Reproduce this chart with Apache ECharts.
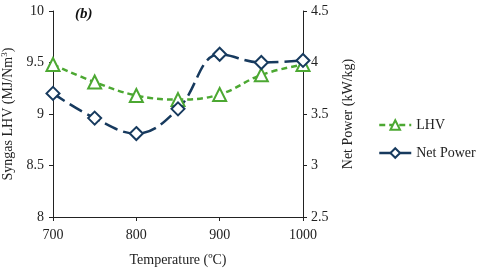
<!DOCTYPE html>
<html><head><meta charset="utf-8">
<script src="https://cdn.jsdelivr.net/npm/echarts@6/dist/echarts.min.js"></script>
<style>html,body{margin:0;padding:0;background:#fff}#c{width:480px;height:268px}</style>
</head><body><div id="c"></div>
<script>
var temps = ['700','750','800','850','900','950','1000'];
var tempValues = [700,750,800,850,900,950,1000];
var lhv = [9.48, 9.31, 9.18, 9.14, 9.19, 9.38, 9.48];
var netPower = [3.70, 3.46, 3.31, 3.55, 4.08, 4.00, 4.02];
var leftTicks = [8, 8.5, 9, 9.5, 10];
var rightTicks = [2.5, 3, 3.5, 4, 4.5];
var xTicks = [700, 800, 900, 1000];

var green = '#4ca832', navy = '#173a5e';
var font = 'Liberation Serif';
var chart = echarts.init(document.getElementById('c'));
function pairs(vals){ return tempValues.map(function(t,i){return [t, vals[i]];}); }
chart.setOption({
  animation: false,
  textStyle: {fontFamily: font, color: '#222'},
  grid: {left: 53, right: 177, top: 11, bottom: 51, containLabel: false, outerBoundsMode: 'none'},
  title: {text: '(b)', left: 70, top: 2, textStyle: {fontFamily: font, fontSize: 15, fontWeight: 'bold', fontStyle: 'italic', color: '#111'}},
  legend: {
    orient: 'vertical', left: 378, top: 118, padding: 0, itemWidth: 32, itemHeight: 12, itemGap: 14,
    textStyle: {fontFamily: font, fontSize: 14, color: '#222'},
    data: [
      {name: 'LHV', lineStyle: {type: [6, 4], width: 2.5, color: green}},
      {name: 'Net Power', lineStyle: {type: [14, 6], width: 2.5, color: navy}}
    ]
  },
  xAxis: {
    type: 'value', min: 700, max: 1000, interval: 100,
    name: 'Temperature (ºC)', nameLocation: 'middle', nameGap: 36,
    nameTextStyle: {fontFamily: font, fontSize: 14, color: '#222'},
    axisLine: {lineStyle: {color: '#222', width: 1}},
    axisTick: {show: true, length: 4, lineStyle: {color: '#222'}},
    axisLabel: {fontFamily: font, fontSize: 14, color: '#222', margin: 11,
      formatter: function(v){ return xTicks.indexOf(v) >= 0 ? String(v) : ''; }},
    splitLine: {show: false}
  },
  yAxis: [{
    type: 'value', min: 8, max: 10, interval: 0.5, position: 'left',
    name: '{n|Syngas LHV (MJ/Nm}{s|3}{n|)}', nameLocation: 'middle', nameGap: 34, nameRotate: 90,
    nameTextStyle: {rich: {n: {fontFamily: font, fontSize: 14, color: '#222'}, s: {fontFamily: font, fontSize: 9, color: '#222', verticalAlign: 'bottom', padding: [0,0,8,0]}}},
    axisLine: {show: true, lineStyle: {color: '#222'}},
    axisTick: {show: true, length: 4, lineStyle: {color: '#222'}},
    axisLabel: {fontFamily: font, fontSize: 14, color: '#222', margin: 9,
      formatter: function(v){ return leftTicks.indexOf(v) >= 0 ? String(v) : ''; }},
    splitLine: {show: false}
  }, {
    type: 'value', min: 2.5, max: 4.5, interval: 0.5, position: 'right',
    name: 'Net Power (kW/kg)', nameLocation: 'middle', nameGap: 38, nameRotate: 90,
    nameTextStyle: {fontFamily: font, fontSize: 14, color: '#222'},
    axisLine: {show: true, lineStyle: {color: '#222'}},
    axisTick: {show: true, length: 4, lineStyle: {color: '#222'}},
    axisLabel: {fontFamily: font, fontSize: 14, color: '#222', margin: 8,
      formatter: function(v){ return rightTicks.indexOf(v) >= 0 ? String(v) : ''; }},
    splitLine: {show: false}
  }],
  series: [{
    name: 'LHV', type: 'line', yAxisIndex: 0, data: pairs(lhv), smooth: 0.4,
    symbol: 'triangle', symbolSize: 13,
    lineStyle: {color: green, width: 2.5, type: [6, 4]},
    itemStyle: {color: '#fff', borderColor: green, borderWidth: 2}
  }, {
    name: 'Net Power', type: 'line', yAxisIndex: 1, data: pairs(netPower), smooth: 0.4,
    symbol: 'diamond', symbolSize: 13,
    lineStyle: {color: navy, width: 2.5, type: [14, 6]},
    itemStyle: {color: '#fff', borderColor: navy, borderWidth: 2}
  }]
});
</script></body></html>
